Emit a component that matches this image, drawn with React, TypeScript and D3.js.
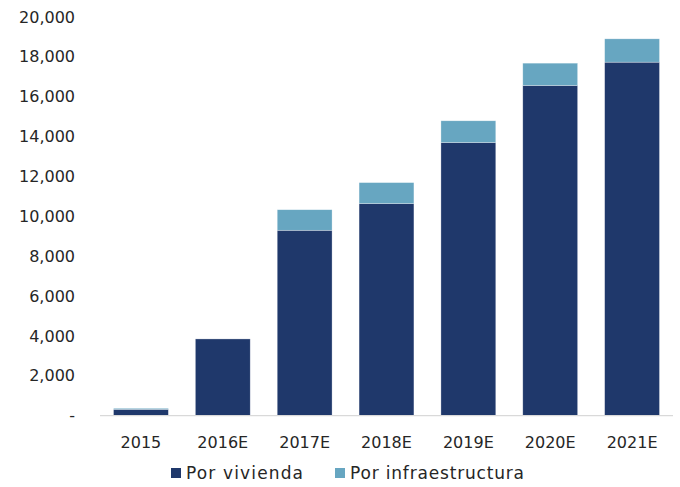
import React from "react";
import * as d3 from "d3";

const categories = ["2015", "2016E", "2017E", "2018E", "2019E", "2020E", "2021E"];
const porVivienda = [320, 3850, 9300, 10640, 13700, 16560, 17730];
const porInfraestructura = [50, 0, 1030, 1050, 1090, 1120, 1170];
const yTicks = [0, 2000, 4000, 6000, 8000, 10000, 12000, 14000, 16000, 18000, 20000];
const seriesNames = ["Por vivienda", "Por infraestructura"];
const colors = ["#1F386B", "#67A6C1"];

const W = 680;
const H = 487;
const FONT = "'DejaVu Sans', sans-serif";

export default function App() {
  const x = d3.scaleBand<string>().domain(categories).range([100, 673]).paddingInner(0.33).paddingOuter(0.165);
  const y = d3.scaleLinear().domain([0, 20000]).range([415.7, 16.9]);
  const fmt = d3.format(",");

  const rows = categories.map((c, i) => ({ cat: c, v: porVivienda[i], inf: porInfraestructura[i] }));
  const stack = d3.stack<any>().keys(["v", "inf"])(rows);

  const legendPos = [171, 335];
  const legendLen = [117, 174];

  return (
    <svg width={W} height={H} style={{ position: "absolute", left: 0, top: 0, background: "#fff" }}>
      <rect width={W} height={H} fill="#fff" />
      {stack.map((layer, li) =>
        layer.map((d, i) =>
          d[1] - d[0] > 0 ? (
            <rect
              key={`${li}-${i}`}
              x={x(categories[i])}
              width={x.bandwidth()}
              y={y(d[1])}
              height={y(d[0]) - y(d[1])}
              fill={colors[li]}
              stroke="#ffffff"
              strokeOpacity={0.5}
              strokeWidth={0.6}
            />
          ) : null
        )
      )}
      <line x1={100} x2={673} y1={y(0)} y2={y(0)} stroke="#d9d9d9" strokeWidth={1.2} />
      {yTicks.map((t) => (
        <text
          key={t}
          x={75}
          y={y(t)}
          dy="0.35em"
          textAnchor="end"
          fontFamily={FONT}
          fontSize={16}
          fill="#262626"
        >
          {t === 0 ? "-" : fmt(t)}
        </text>
      ))}
      {categories.map((c) => (
        <text
          key={c}
          x={(x(c) as number) + x.bandwidth() / 2}
          y={442}
          dy="0.35em"
          textAnchor="middle"
          fontFamily={FONT}
          fontSize={16}
          fill="#262626"
        >
          {c}
        </text>
      ))}
      {seriesNames.map((s, i) => {
        const lx = legendPos[i];
        return (
          <g key={s}>
            <rect x={lx} y={468} width={10} height={10} fill={colors[i]} />
            <text
              x={lx + 15}
              y={473}
              dy="0.35em"
              fontFamily={FONT}
              fontSize={17}
              fill="#262626"
              textLength={legendLen[i]}
            >
              {s}
            </text>
          </g>
        );
      })}
    </svg>
  );
}
